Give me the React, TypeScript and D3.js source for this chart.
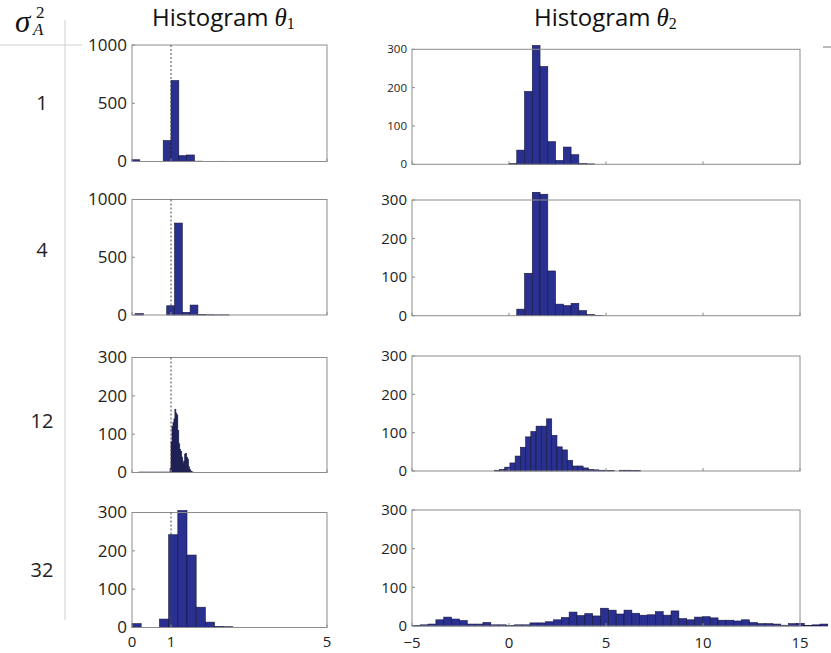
import React from "react";
import * as d3 from "d3";

// ---------- data ----------
const rowLabels = ["1", "4", "12", "32"];
const colTitles = ["Histogram", "Histogram"];

const leftYTicksBig = [0, 500, 1000];
const yTicks300 = [0, 100, 200, 300];
const leftXTicks = [0, 1, 5];
const rightXTicks = [-5, 0, 5, 10, 15];

// theta1 histograms (bin start, bin width, counts)
const t1Row1Start = 0;
const t1Row1Width = 0.2;
const t1Row1Counts = [15, 0, 0, 0, 180, 695, 50, 56, 3, 0, 0, 2];

const t1Row2Start = 0.09;
const t1Row2Width = 0.2;
const t1Row2Counts = [12, 0, 0, 0, 80, 796, 23, 86, 3, 2, 1, 1];

const t1Row3Start = 0.175;
const t1Row3Width = 0.025;
const t1Row3Counts = [
  1, 1, 1, 1, 1, 1, 1, 1, 1, 1, 1, 1, 1, 1, 1, 1,
  1, 1, 1, 1, 1, 1, 1, 1, 1, 1, 1, 1, 1, 1, 1, 1,
  10, 80, 120, 130, 140, 165, 155, 150, 110, 75, 60, 55, 40, 25, 30, 48,
  50, 40, 35, 15, 8, 4, 2, 1,
];

const t1Row4Start = 0;
const t1Row4Width = 0.235;
const t1Row4Counts = [10, 0, 0, 22, 242, 305, 189, 53, 14, 3, 2];

// theta2 histograms
const t2Row1Start = 0;
const t2Row1Width = 0.4;
const t2Row1Counts = [2, 37, 190, 310, 255, 59, 10, 45, 25, 2, 1];

const t2Row2Start = 0;
const t2Row2Width = 0.4;
const t2Row2Counts = [0, 17, 110, 320, 315, 116, 30, 26, 32, 13, 3, 1];

const t2Row3Start = -0.76;
const t2Row3Width = 0.2694;
const t2Row3Counts = [
  2, 4, 10, 21, 39, 62, 89, 103, 117, 117, 136, 93, 63, 55, 28, 13, 13, 8, 4,
  3, 2, 1, 1, 0, 2, 2, 1, 1,
];

const t2Row4Start = -4.98;
const t2Row4Width = 0.404;
const t2Row4Counts = [
  1, 3, 5, 16, 23, 18, 14, 5, 5, 9, 3, 3, 1, 3, 3, 8, 8, 11, 16, 22, 36, 27,
  32, 26, 46, 41, 31, 41, 33, 28, 29, 37, 28, 39, 19, 16, 23, 24, 21, 15, 15,
  13, 16, 9, 6, 6, 5, 2, 6, 7, 1, 3, 5,
];

// ---------- layout ----------
const FONT = "'Open Sans', 'Noto Sans', sans-serif";
const MATH = "'Liberation Serif', 'DejaVu Serif', serif";
const BAR_FILL = "#2a3090";
const BAR_STROKE = "#14163a";
const AXIS = "#8c8c8c";

type Panel = {
  left: number;
  right: number;
  top: number;
  bottom: number;
  xDomain: [number, number];
  yMax: number;
  yTicks: number[];
  start: number;
  width: number;
  counts: number[];
  labelSize: number;
  xTicks: number[];
  showXLabels: boolean;
  xLabelOffset: number;
  refLine: boolean;
};

const rowsTopBottomLeft: [number, number][] = [
  [45, 161.5],
  [199.5, 315],
  [357.5, 472.5],
  [512.5, 627.5],
];
const rowsTopBottomRight: [number, number][] = [
  [49.3, 164.3],
  [200, 315.7],
  [356, 471],
  [510, 626],
];

const leftData = [
  [t1Row1Start, t1Row1Width, t1Row1Counts],
  [t1Row2Start, t1Row2Width, t1Row2Counts],
  [t1Row3Start, t1Row3Width, t1Row3Counts],
  [t1Row4Start, t1Row4Width, t1Row4Counts],
] as [number, number, number[]][];
const rightData = [
  [t2Row1Start, t2Row1Width, t2Row1Counts],
  [t2Row2Start, t2Row2Width, t2Row2Counts],
  [t2Row3Start, t2Row3Width, t2Row3Counts],
  [t2Row4Start, t2Row4Width, t2Row4Counts],
] as [number, number, number[]][];

const panels: Panel[] = [];
for (let r = 0; r < 4; r++) {
  const [lt, lb] = rowsTopBottomLeft[r];
  panels.push({
    left: 132,
    right: 327,
    top: lt,
    bottom: lb,
    xDomain: [0, 5],
    yMax: r < 2 ? 1000 : 300,
    yTicks: r < 2 ? leftYTicksBig : yTicks300,
    start: leftData[r][0],
    width: leftData[r][1],
    counts: leftData[r][2],
    labelSize: 17,
    xTicks: leftXTicks,
    showXLabels: r === 3,
    xLabelOffset: 14.5,
    refLine: true,
  });
  const [rt, rb] = rowsTopBottomRight[r];
  panels.push({
    left: 412,
    right: 800,
    top: rt,
    bottom: rb,
    xDomain: [-5, 15],
    yMax: 300,
    yTicks: yTicks300,
    start: rightData[r][0],
    width: rightData[r][1],
    counts: rightData[r][2],
    labelSize: r === 0 ? 11.5 : 15,
    xTicks: rightXTicks,
    showXLabels: r === 3,
    xLabelOffset: 16.5,
    refLine: false,
  });
}

function PanelView({ p }: { p: Panel }) {
  const xs = d3.scaleLinear().domain(p.xDomain).range([p.left, p.right]);
  const ys = d3.scaleLinear().domain([0, p.yMax]).range([p.bottom, p.top]);
  const bars = p.counts
    .map((c, i) => ({ c, x0: p.start + i * p.width, x1: p.start + (i + 1) * p.width }))
    .filter((b) => b.c > 0);
  return (
    <g>
      {bars.map((b, i) => (
        <rect
          key={i}
          x={xs(b.x0)}
          y={ys(b.c)}
          width={xs(b.x1) - xs(b.x0)}
          height={ys(0) - ys(b.c)}
          fill={BAR_FILL}
          stroke={BAR_STROKE}
          strokeWidth={0.6}
        />
      ))}
      <rect
        x={p.left}
        y={p.top}
        width={p.right - p.left}
        height={p.bottom - p.top}
        fill="none"
        stroke={AXIS}
        strokeWidth={1}
      />
      {p.refLine && (
        <line
          x1={xs(1)}
          x2={xs(1)}
          y1={p.top}
          y2={p.bottom}
          stroke="#444"
          strokeWidth={1}
          strokeDasharray="2,2"
        />
      )}
      {p.yTicks.map((t) => (
        <g key={"y" + t}>
          <line x1={p.left} x2={p.left + 3} y1={ys(t)} y2={ys(t)} stroke={AXIS} />
          <text
            x={p.left - 5}
            y={ys(t)}
            dy="0.35em"
            textAnchor="end"
            fontFamily={FONT}
            fontSize={p.labelSize}
            fill="#222"
          >
            {t}
          </text>
        </g>
      ))}
      {p.xTicks.map((t) => (
        <g key={"x" + t}>
          <line x1={xs(t)} x2={xs(t)} y1={p.bottom} y2={p.bottom - 3} stroke={AXIS} />
          {p.showXLabels && (
            <text
              x={xs(t)}
              y={p.bottom + p.xLabelOffset}
              dy="0.35em"
              textAnchor="middle"
              fontFamily={FONT}
              fontSize={15}
              fill="#222"
            >
              {t < 0 ? "\u2212" + Math.abs(t) : t}
            </text>
          )}
        </g>
      ))}
    </g>
  );
}

export default function App() {
  const rowCenters = [103, 250, 421, 570];
  const titleX = [152, 534];
  return (
    <svg width={831} height={653} style={{ position: "absolute", left: 0, top: 0 }}>
      <rect x={0} y={0} width={831} height={653} fill="#fff" />
      {/* separators */}
      <line x1={65} x2={65} y1={20} y2={620} stroke="#d0d0d0" strokeWidth={1} />
      <line x1={0} x2={82} y1={45} y2={45} stroke="#d0d0d0" strokeWidth={1} />
      <line x1={823} x2={831} y1={47} y2={47} stroke="#777" strokeWidth={1} />
      {/* corner label sigma_A^2 */}
      <text x={15} y={32} fontFamily={MATH} fontStyle="italic" fontSize={31} fill="#111">
        σ
      </text>
      <text x={36} y={18} fontFamily={MATH} fontSize={17} fill="#111">
        2
      </text>
      <text x={33} y={35} fontFamily={MATH} fontStyle="italic" fontSize={17} fill="#111">
        A
      </text>
      {/* column titles */}
      {colTitles.map((t, i) => (
        <text key={i} x={titleX[i]} y={26} fontFamily={FONT} fontSize={24} fill="#111">
          {t}
          <tspan dx={6} fontFamily={MATH} fontStyle="italic" fontSize={25}>
            θ
          </tspan>
          <tspan fontFamily={MATH} fontSize={16} dy={3}>
            {i + 1}
          </tspan>
        </text>
      ))}
      {/* row labels */}
      {rowLabels.map((l, i) => (
        <text
          key={l}
          x={42}
          y={rowCenters[i]}
          dy="0.35em"
          textAnchor="middle"
          fontFamily={FONT}
          fontSize={20}
          fill="#222"
        >
          {l}
        </text>
      ))}
      {panels.map((p, i) => (
        <PanelView key={i} p={p} />
      ))}
    </svg>
  );
}
